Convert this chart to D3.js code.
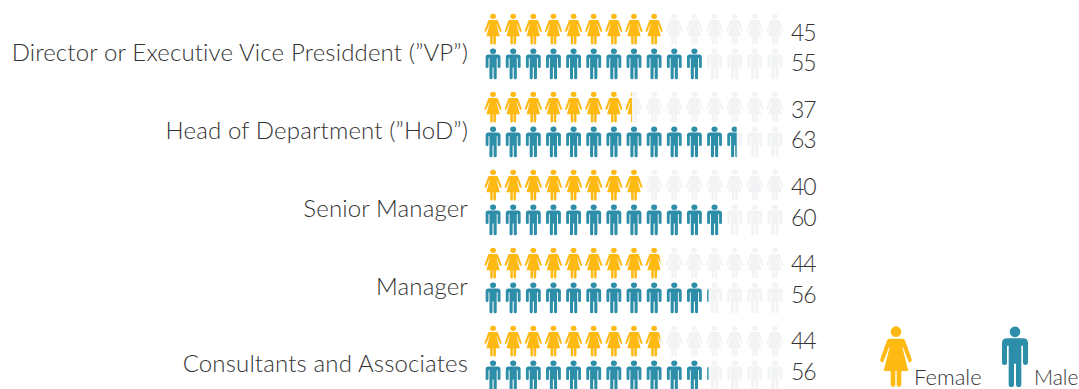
<!DOCTYPE html>
<html>
<head>
<meta charset="utf-8">
<script src="https://cdn.jsdelivr.net/npm/d3@7"></script>
<style>
  html, body { margin: 0; padding: 0; background: #fff; overflow: hidden; }
  text { font-family: Lato, "Open Sans", sans-serif; font-weight: 300; fill: #333; }
</style>
</head>
<body>
<div id="chart"></div>
<script>
const categories = [
    "Director or Executive Vice Presiddent (\u201dVP\u201d)",
    "Head of Department (\u201dHoD\u201d)",
    "Senior Manager",
    "Manager",
    "Consultants and Associates"
];
const femaleValues = [45, 37, 40, 44, 44];
const maleValues = [55, 63, 60, 56, 56];
const genders = ["Female", "Male"];
const iconValue = 5;   // one figure stands for 5
const iconCount = 15;

const width = 1079, height = 389;
const yellow = "#ffb913", teal = "#2c8ea8", empty = "#f2f3f5";

// figures drawn around x = 0, top at y = 0, 184 units tall
const femalePath = "M-20,38 L20,38 Q25,38 27,43 L47,100 Q49,106 44,108 Q39,110 37,105 L21,64 L19,64 L37,135 L16,135 L16,176 A7,7 0 0 1 2,176 L2,135 L-2,135 L-2,176 A7,7 0 0 1 -16,176 L-16,135 L-37,135 L-19,64 L-21,64 L-37,105 Q-39,110 -44,108 Q-49,106 -47,100 L-27,43 Q-25,38 -20,38 Z M16,17 A16,16 0 1 1 -16,17 A16,16 0 1 1 16,17 Z";
const malePath = "M-24,35 L24,35 Q39,35 39,50 L39,108 A7.5,7.5 0 0 1 24,108 L24,58 L19,58 L19,174 A8,8 0 0 1 3,174 L3,112 L-3,112 L-3,174 A8,8 0 0 1 -19,174 L-19,58 L-24,58 L-24,108 A7.5,7.5 0 0 1 -39,108 L-39,50 Q-39,35 -24,35 Z M16,16 A16,16 0 1 1 -16,16 A16,16 0 1 1 16,16 Z";

const svg = d3.select("#chart")
    .append("svg")
    .attr("width", width)
    .attr("height", height);

const x = d3.scaleLinear().domain([0, iconCount * iconValue]).range([483, 785]);

// centre of each group of two rows
const y = d3.scalePoint().domain(categories).range([53, 364]);
const iconY = d3.scalePoint().domain(categories).range([53, 365]);

const rows = [
    { gender: "Female", values: femaleValues, path: femalePath, color: yellow, top: -39.5, scaleX: 0.18, valueY: d3.scalePoint().domain(categories).range([33, 341]) },
    { gender: "Male", values: maleValues, path: malePath, color: teal, top: -4.5, scaleX: 0.19, valueY: d3.scalePoint().domain(categories).range([63, 372]) }
];

const slots = d3.range(iconCount);

categories.forEach((cat, c) => {
    const g = svg.append("g");

    // category label
    g.append("text")
        .attr("x", 468)
        .attr("y", y(cat))
        .attr("dy", "0.35em")
        .attr("text-anchor", "end")
        .style("font-size", "24px")
        .style("letter-spacing", "0.15px")
        .text(cat);

    rows.forEach((row) => {
        const v = row.values[c];
        const clipId = `clip-${c}-${row.gender}`;

        svg.append("clipPath")
            .attr("id", clipId)
            .append("rect")
            .attr("x", x(0))
            .attr("y", 0)
            .attr("width", x(v) - x(0))
            .attr("height", height);

        const place = (d) => `translate(${x((d + 0.5) * iconValue)},${iconY(cat) + row.top}) scale(${row.scaleX},0.169)`;

        // empty figures behind
        g.append("g").selectAll("path")
            .data(slots)
            .join("path")
            .attr("d", row.path)
            .attr("transform", place)
            .attr("fill", empty);

        // coloured figures, cut off at the value
        g.append("g")
            .attr("clip-path", `url(#${clipId})`)
            .selectAll("path")
            .data(slots)
            .join("path")
            .attr("d", row.path)
            .attr("transform", place)
            .attr("fill", row.color);

        // value at the end of the row
        g.append("text")
            .attr("x", 791)
            .attr("y", row.valueY(cat))
            .attr("dy", "0.35em")
            .style("font-size", "23px")
            .style("letter-spacing", "-1px")
            .text(v);
    });
});

// Legend
const legendX = d3.scalePoint().domain(genders).range([896, 1015]);
const legend = svg.selectAll(".legend")
    .data(rows)
    .join("g")
    .attr("class", "legend");

legend.append("path")
    .attr("d", d => d.path)
    .attr("transform", d => `translate(${legendX(d.gender)},${d.gender === "Female" ? 326 : 326.5}) scale(0.333)`)
    .attr("fill", d => d.color);

legend.append("text")
    .attr("x", d => legendX(d.gender) + (d.gender === "Female" ? 18 : 19))
    .attr("y", 385)
    .style("font-size", d => d.gender === "Female" ? "22px" : "21px")
    .text(d => d.gender);
</script>
</body>
</html>
